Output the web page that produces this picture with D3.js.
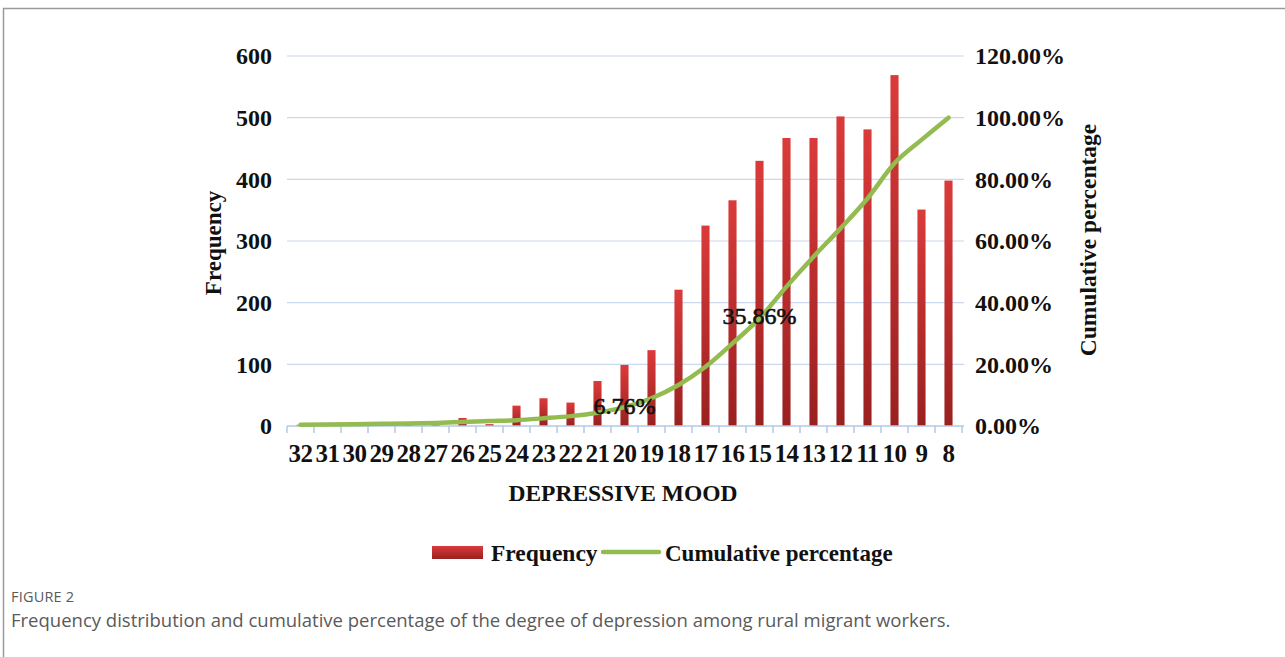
<!DOCTYPE html>
<html>
<head>
<meta charset="utf-8">
<script src="https://cdn.jsdelivr.net/npm/d3@7"></script>
<style>
  body { margin: 0; background: #fff; }
  .serif { font-family: "Liberation Serif", "Times New Roman", serif; font-weight: bold; fill: #111; }
  .caption { font-family: "Open Sans", "Noto Sans", sans-serif; fill: #5a5a5a; }
</style>
</head>
<body>
<svg id="chart" width="1285" height="657"></svg>
<script>
// ----------------------------------------------------------------------------
// data
// ----------------------------------------------------------------------------
const categories = ['32','31','30','29','28','27','26','25','24','23','22','21','20',
                    '19','18','17','16','15','14','13','12','11','10','9','8'];
const frequency = [2, 3, 3, 4, 4, 5, 13, 3, 33, 45, 38, 73, 99,
                   123, 221, 325, 366, 430, 467, 467, 502, 481, 569, 351, 398];
const cumulativePct = [0.4, 0.5, 0.6, 0.7, 0.8, 1.0, 1.3, 1.6, 1.9, 2.5, 3.2, 4.3, 6.1,
                       9.0, 13.3, 19.2, 26.8, 34.9, 45.2, 54.9, 64.1, 73.8, 85.2, 92.8, 100.0];
const leftTicks = [0, 100, 200, 300, 400, 500, 600];
const rightTicks = [0, 20, 40, 60, 80, 100, 120];
const labelCats = ['20', '15'];
const labelVals = [6.76, 35.86];

// ----------------------------------------------------------------------------
// frame + scales
// ----------------------------------------------------------------------------
const svg = d3.select('#chart');

svg.append('rect').attr('width', 1285).attr('height', 657).attr('fill', '#fff');
svg.append('path')
  .attr('d', 'M3.5,657 V8.5 H1285')
  .attr('fill', 'none').attr('stroke', '#9a9a9a').attr('stroke-width', 1.5);

const x = d3.scaleBand().domain(categories).range([287, 962]).padding(0);
const yL = d3.scaleLinear().domain([0, 600]).range([426, 56]);
const yR = d3.scaleLinear().domain([0, 120]).range([426, 56]);

const defs = svg.append('defs');
const grad = defs.append('linearGradient').attr('id', 'barGrad')
  .attr('x1', 0).attr('x2', 0).attr('y1', 0).attr('y2', 1);
grad.append('stop').attr('offset', '0%').attr('stop-color', '#da3b3a');
grad.append('stop').attr('offset', '100%').attr('stop-color', '#9a2020');

// gridlines
svg.append('g').selectAll('line')
  .data(leftTicks.filter(d => d > 0))
  .enter().append('line')
  .attr('x1', 287).attr('x2', 964)
  .attr('y1', d => yL(d)).attr('y2', d => yL(d))
  .attr('stroke', '#c9d8ec').attr('stroke-width', 1.2);

// ----------------------------------------------------------------------------
// bars
// ----------------------------------------------------------------------------
const barW = x.bandwidth() * 0.3;
svg.append('g').selectAll('rect')
  .data(frequency)
  .enter().append('rect')
  .attr('x', (d, i) => x(categories[i]) + (x.bandwidth() - barW) / 2)
  .attr('y', d => yL(d))
  .attr('width', barW)
  .attr('height', d => yL(0) - yL(d))
  .attr('fill', 'url(#barGrad)');

// x axis line with boundary ticks
const xAxisG = svg.append('g');
xAxisG.append('line')
  .attr('x1', 287).attr('x2', 964).attr('y1', yL(0)).attr('y2', yL(0))
  .attr('stroke', '#b3c8e4').attr('stroke-width', 1.5);
const bounds = categories.map(c => x(c)).concat([x.range()[1]]);
xAxisG.selectAll('.tk')
  .data(bounds)
  .enter().append('line')
  .attr('x1', d => d).attr('x2', d => d)
  .attr('y1', yL(0)).attr('y2', yL(0) + 7)
  .attr('stroke', '#b3c8e4').attr('stroke-width', 1.5);

xAxisG.selectAll('.xl')
  .data(categories)
  .enter().append('text')
  .attr('class', 'serif')
  .attr('x', d => x(d) + x.bandwidth() / 2)
  .attr('y', 462)
  .attr('text-anchor', 'middle')
  .style('font-size', '25px')
  .style('letter-spacing', '-0.5px')
  .text(d => d);

// ----------------------------------------------------------------------------
// cumulative line
// ----------------------------------------------------------------------------
const valueline = d3.line()
  .x((d, i) => x(categories[i]) + x.bandwidth() / 2)
  .y(d => yR(d))
  .curve(d3.curveMonotoneX);

svg.append('path')
  .attr('d', valueline(cumulativePct))
  .attr('fill', 'none')
  .attr('stroke', '#93bb4f')
  .attr('stroke-width', 4.5)
  .attr('stroke-linecap', 'round')
  .attr('stroke-linejoin', 'round');

svg.append('g').selectAll('text')
  .data(labelVals)
  .enter().append('text')
  .attr('x', (d, i) => x(labelCats[i]) + x.bandwidth() / 2)
  .attr('y', d => yR(d))
  .attr('dy', '0.35em')
  .attr('text-anchor', 'middle')
  .style('font-family', '"Liberation Serif", serif')
  .style('font-size', '24px')
  .style('fill', '#111')
  .style('stroke', '#111')
  .style('stroke-width', '0.6px')
  .text(d => d.toFixed(2) + '%');

// ----------------------------------------------------------------------------
// y axes
// ----------------------------------------------------------------------------
svg.append('g').selectAll('text')
  .data(leftTicks)
  .enter().append('text')
  .attr('class', 'serif')
  .attr('x', 272).attr('y', d => yL(d)).attr('dy', '0.35em')
  .attr('text-anchor', 'end')
  .style('font-size', '24px')
  .text(d => d);

svg.append('g').selectAll('text')
  .data(rightTicks)
  .enter().append('text')
  .attr('class', 'serif')
  .attr('x', 975).attr('y', d => yR(d)).attr('dy', '0.35em')
  .attr('text-anchor', 'start')
  .style('font-size', '24px')
  .text(d => d.toFixed(2) + '%');

// axis titles
svg.append('text').attr('class', 'serif')
  .attr('x', 623).attr('y', 501).attr('text-anchor', 'middle')
  .style('font-size', '23.5px').text('DEPRESSIVE MOOD');

svg.append('text').attr('class', 'serif')
  .attr('transform', 'translate(221,243) rotate(-90)')
  .attr('text-anchor', 'middle')
  .style('font-size', '23px').text('Frequency');

svg.append('text').attr('class', 'serif')
  .attr('transform', 'translate(1096,240) rotate(-90)')
  .attr('text-anchor', 'middle')
  .style('font-size', '23.5px').text('Cumulative percentage');

// ----------------------------------------------------------------------------
// legend
// ----------------------------------------------------------------------------
const legend = svg.append('g');
legend.append('rect').attr('x', 432).attr('y', 546).attr('width', 51).attr('height', 13)
  .attr('fill', 'url(#barGrad)');
legend.append('text').attr('class', 'serif').attr('x', 491).attr('y', 561)
  .style('font-size', '23.5px').text('Frequency');
legend.append('line').attr('x1', 603).attr('x2', 659).attr('y1', 552).attr('y2', 552)
  .attr('stroke', '#93bb4f').attr('stroke-width', 4.5).attr('stroke-linecap', 'round');
legend.append('text').attr('class', 'serif').attr('x', 665).attr('y', 561)
  .style('font-size', '23px').text('Cumulative percentage');

// ----------------------------------------------------------------------------
// caption
// ----------------------------------------------------------------------------
svg.append('text').attr('class', 'caption')
  .attr('x', 11).attr('y', 602)
  .style('font-size', '14.5px').style('letter-spacing', '0.2px')
  .text('FIGURE 2');
svg.append('text').attr('class', 'caption')
  .attr('x', 11).attr('y', 627)
  .style('font-size', '18.5px')
  .text('Frequency distribution and cumulative percentage of the degree of depression among rural migrant workers.');
</script>
</body>
</html>
